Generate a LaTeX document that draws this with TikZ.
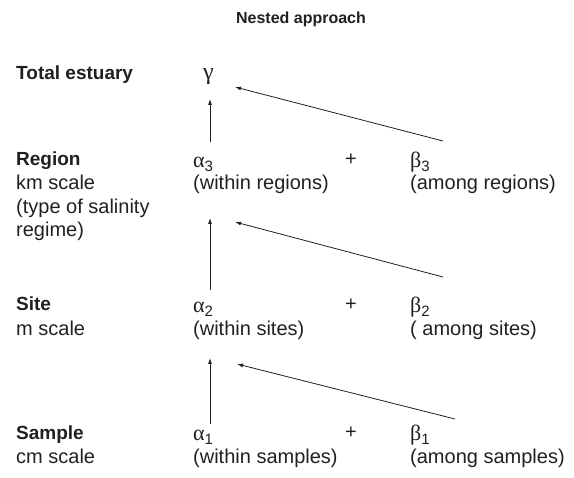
\documentclass[tikz,border=0pt]{standalone}
\usepackage{fontspec}
\setmainfont{Liberation Sans}
\newfontfamily\grk{Liberation Serif}
\usetikzlibrary{arrows.meta}
\definecolor{ink}{HTML}{231F20}
\newcommand{\gsub}[2]{{\grk\fontsize{22}{24}\selectfont #1}\raisebox{-0.35ex}{\fontsize{15}{15}\selectfont #2}}
\tikzset{
  txt/.style={anchor=base west, inner sep=0pt, text=ink, font=\fontsize{20}{24}\selectfont},
  hd/.style={anchor=base west, inner sep=0pt, text=ink, font=\fontsize{19}{23}\selectfont\bfseries},
  arr/.style={draw=ink, line width=0.8pt, -{Latex[length=6pt,width=4pt]}},
}
\begin{document}
\begin{tikzpicture}[x=1pt,y=-1pt]
\useasboundingbox (0,0) rectangle (574,478);
% title
\node[anchor=base, inner sep=0pt, text=ink, font=\fontsize{16}{19}\selectfont\bfseries] (title) at (301,24) {Nested approach};
% left labels
\node[hd] (tot) at (16,80) {Total estuary};
\node[hd] (reg) at (16,166) {Region};
\node[txt] (reg1) at (16,190) {km scale};
\node[txt] (reg2) at (16,214) {(type of salinity};
\node[txt] (reg3) at (16,237) {regime)};
\node[hd] (site) at (16,311) {Site};
\node[txt] (site1) at (16,336) {m scale};
\node[hd] (samp) at (16,440) {Sample};
\node[txt] (samp1) at (16,464) {cm scale};
% gamma
\node[txt] (g) at (203,80) {{\grk\fontsize{24}{26}\selectfont γ}};
% region row
\node[txt] (a3) at (193,168) {\gsub{α}{3}};
\node[txt] (wa3) at (193,190) {(within regions)};
\node[txt, anchor=base] (p3) at (351,166) {+};
\node[txt] (b3) at (410,168) {\gsub{β}{3}};
\node[txt] (wb3) at (410,190) {(among regions)};
% site row
\node[txt] (a2) at (193,313) {\gsub{α}{2}};
\node[txt] (wa2) at (193,336) {(within sites)};
\node[txt, anchor=base] (p2) at (351,311) {+};
\node[txt] (b2) at (410,313) {\gsub{β}{2}};
\node[txt] (wb2) at (410,336) {( among sites)};
% sample row
\node[txt] (a1) at (193,441) {\gsub{α}{1}};
\node[txt] (wa1) at (193,464) {(within samples)};
\node[txt, anchor=base] (p1) at (351,439) {+};
\node[txt] (b1) at (410,441) {\gsub{β}{1}};
\node[txt] (wb1) at (410,464) {(among samples)};
% arrow end points
\coordinate (a3top) at (210,142);
\coordinate (gbot) at (210,99);
\coordinate (b3tail) at (443,141);
\coordinate (ghead) at (235,87);
\coordinate (a2top) at (210,290);
\coordinate (wa3bot) at (210,218);
\coordinate (b2tail) at (443,277);
\coordinate (wa3head) at (235,222);
\coordinate (a1top) at (210,424);
\coordinate (wa2bot) at (210,358);
\coordinate (b1tail) at (455,419);
\coordinate (wa2head) at (237,364);
\draw[arr] (a3top) -- (gbot);
\draw[arr] (b3tail) -- (ghead);
\draw[arr] (a2top) -- (wa3bot);
\draw[arr] (b2tail) -- (wa3head);
\draw[arr] (a1top) -- (wa2bot);
\draw[arr] (b1tail) -- (wa2head);
\end{tikzpicture}
\end{document}
